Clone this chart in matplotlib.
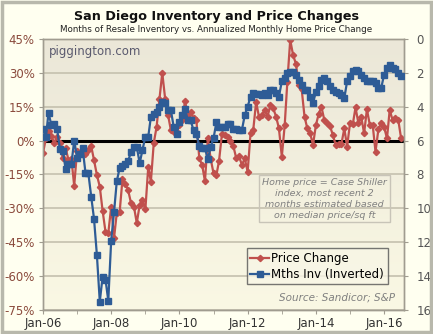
import numpy as np
import pandas as pd
import matplotlib
matplotlib.use("Agg")
import matplotlib.pyplot as plt
import matplotlib.dates as mdates
from matplotlib.lines import Line2D
from matplotlib.patches import Rectangle

# 月度数据：2006-01 起
price_change = [
    -5.5, 1.0, 4.4, 2.0, -1.0, 1.7, -1.0, -7.8, -3.4, -8.6,
    -8.0, -20.0, -4.5, -6.0, -4.0, -6.0, -4.2, -2.4, -8.6, -15.2,
    -20.4, -31.0, -40.3, -41.0, -29.3, -43.0, -32.0, -31.5, -17.0, -19.0,
    -22.0, -27.8, -29.3, -36.5, -28.5, -26.5, -30.5, -11.6, -18.2, -1.0,
    6.0, 18.5, 30.0, 18.5, 11.3, 4.7, 4.0, 3.9, 6.9, 9.1,
    17.5, 11.3, 12.8, 10.0, 9.1, -7.8, -10.8, -18.0, 1.0, -8.0,
    -14.5, -15.2, -8.9, 3.0, 2.5, 1.7, 0.0, -2.4, -7.8, -7.0,
    -10.8, -7.8, -13.8, 3.2, 4.7, 17.2, 10.6, 11.3, 13.6, 10.6,
    15.8, 14.3, 10.6, 5.4, -7.1, 6.9, 26.0, 44.6, 38.0, 34.0,
    24.6, 23.0, 10.6, 5.4, 3.2, -1.9, 6.9, 12.0, 15.0, 9.1,
    7.7, 6.5, 2.5, -1.9, -1.5, -1.5, 5.4, -2.7, 7.7, 7.5,
    14.7, 7.7, 10.6, 3.2, 13.9, 7.0, 6.9, -4.9, 5.0, 7.7,
    6.0, 1.0, 13.6, 9.1, 10.0, 9.1, 1.0,
]
months_inv = [
    5.3, 5.8, 4.35, 5.1, 5.0, 5.3, 6.5, 6.6, 7.7, 7.4,
    7.4, 6.0, 7.0, 6.8, 6.45, 7.9, 7.9, 9.3, 10.6, 12.75,
    15.5, 14.05, 14.2, 15.45, 11.9, 10.2, 8.4, 7.6, 7.5, 7.4,
    7.2, 6.65, 6.36, 6.36, 7.34, 6.55, 5.77, 5.77, 4.6, 4.4,
    4.3, 4.0, 3.7, 3.8, 4.2, 4.2, 5.2, 5.6, 4.9, 4.5,
    4.13, 4.8, 4.8, 5.4, 5.6, 6.3, 6.45, 6.45, 7.1, 6.36,
    5.86, 4.9, 5.2, 5.2, 5.2, 5.0, 5.0, 5.3, 5.3, 5.37,
    5.37, 4.5, 4.0, 3.4, 3.2, 3.25, 3.25, 3.3, 3.2, 3.3,
    3.0, 3.0, 3.2, 3.4, 2.5, 2.3, 2.0, 1.93, 1.95, 2.13,
    2.4, 2.7, 3.0, 3.0, 3.4, 3.8, 3.1, 2.8, 2.42, 2.32,
    2.5, 2.8, 3.0, 3.1, 3.2, 3.3, 3.5, 2.5, 2.2, 1.9,
    1.83, 1.9, 2.1, 2.3, 2.5, 2.5, 2.5, 2.6, 2.9, 2.9,
    2.1, 1.73, 1.55, 1.7, 1.75, 2.0, 2.2,
]
dates = pd.date_range("2006-01-01", periods=len(price_change), freq="MS")

pct_ticks = [-75, -60, -45, -30, -15, 0, 15, 30, 45]
inv_ticks = [0, 2, 4, 6, 8, 10, 12, 14, 16]

RED = "#c0504d"
BLUE = "#2e5c96"

fig = plt.figure(figsize=(4.33, 3.34), dpi=100)
fig.patch.set_facecolor("#fffff0")
fig.patches.append(Rectangle((0.004, 0.005), 0.992, 0.99, transform=fig.transFigure,
                             fill=False, edgecolor="#b8b8ac", linewidth=2.5))

ax = fig.add_axes([0.0993, 0.0719, 0.8337, 0.8113])
ax2 = ax.twinx()

# 背景渐变
grad = np.linspace(0, 1, 256).reshape(-1, 1)
cmap = matplotlib.colors.LinearSegmentedColormap.from_list(
    "bg", ["#faf8e4", "#ebe7d8"])
ax.imshow(grad, extent=[0, 1, 0, 1], transform=ax.transAxes, cmap=cmap,
          aspect="auto", origin="lower", zorder=0)
ax.set_facecolor("#f3f0de")

ax.set_ylim(-75, 45)
ax.set_yticks(pct_ticks)
ax.set_yticklabels([f"{t}%" for t in pct_ticks])
ax.grid(axis="y", color="#c8c4b2", linewidth=1.3, zorder=1)
ax.axhline(0, color="black", linewidth=2.2, zorder=2)

ax.plot(dates, price_change, color=RED, marker="D", markersize=3.2,
        linewidth=1.6, zorder=3)

ax2.set_ylim(16, 0)
ax2.set_yticks(inv_ticks)
ax2.plot(dates, months_inv, color=BLUE, marker="s", markersize=4.2,
         linewidth=1.6, zorder=4)

ax.set_xlim(pd.Timestamp("2006-01-01"), pd.Timestamp("2016-08-01"))
ax.xaxis.set_major_locator(mdates.YearLocator(2))
ax.xaxis.set_minor_locator(mdates.YearLocator(1))
ax.xaxis.set_major_formatter(mdates.DateFormatter("%b-%y"))

for a in (ax, ax2):
    for s in a.spines.values():
        s.set_color("#a09c90")
        s.set_linewidth(1.0)
ax.tick_params(axis="y", colors="#a09c90", labelcolor="#8a4a3c", labelsize=8.5,
               length=3, pad=3)
ax2.tick_params(axis="y", colors="#a09c90", labelcolor="#555555", labelsize=8.5,
                length=3, pad=6)
ax.tick_params(axis="x", which="both", colors="#a09c90", labelcolor="#333333",
               labelsize=8.5, length=3, pad=2)

fig.text(0.5, 0.952, "San Diego Inventory and Price Changes", ha="center",
         va="center", fontsize=9.2, fontweight="bold", color="#111111")
fig.text(0.5, 0.913, "Months of Resale Inventory vs. Annualized Monthly Home Price Change",
         ha="center", va="center", fontsize=6.3, color="#222222")

ax.text(0.017, 0.955, "piggington.com", transform=ax.transAxes, ha="left",
        va="center", fontsize=8.5, color="#5a5a6e", zorder=6)

ax.text(0.78, 0.41, "Home price = Case Shiller\nindex, most recent 2\nmonths estimated based\non median price/sq ft",
        transform=ax.transAxes, ha="center", va="center", fontsize=6.8,
        style="italic", color="#808080", linespacing=1.25, zorder=6,
        bbox=dict(boxstyle="square,pad=0.3", facecolor="none",
                  edgecolor="#c8c4b8", linewidth=1))

ax.text(0.975, 0.045, "Source: Sandicor; S&P", transform=ax.transAxes,
        ha="right", va="center", fontsize=7.5, style="italic",
        color="#808080", zorder=6)

handles = [
    Line2D([], [], color=RED, marker="D", markersize=3.2, linewidth=1.6),
    Line2D([], [], color=BLUE, marker="s", markersize=4.2, linewidth=1.6),
]
leg = ax2.legend(handles, ["Price Change", "Mths Inv (Inverted)"],
                 loc="lower right", bbox_to_anchor=(0.955, 0.095), fontsize=8.5,
                 frameon=True, fancybox=False, handlelength=1.6,
                 handletextpad=0.2, borderpad=0.3, labelspacing=0.25,
                 borderaxespad=0)
leg.get_frame().set_edgecolor("#555555")
leg.get_frame().set_facecolor("#f8f6e6")
leg.get_frame().set_linewidth(1.0)
leg.set_zorder(7)

fig.savefig("out.png", dpi=100, facecolor=fig.get_facecolor())
